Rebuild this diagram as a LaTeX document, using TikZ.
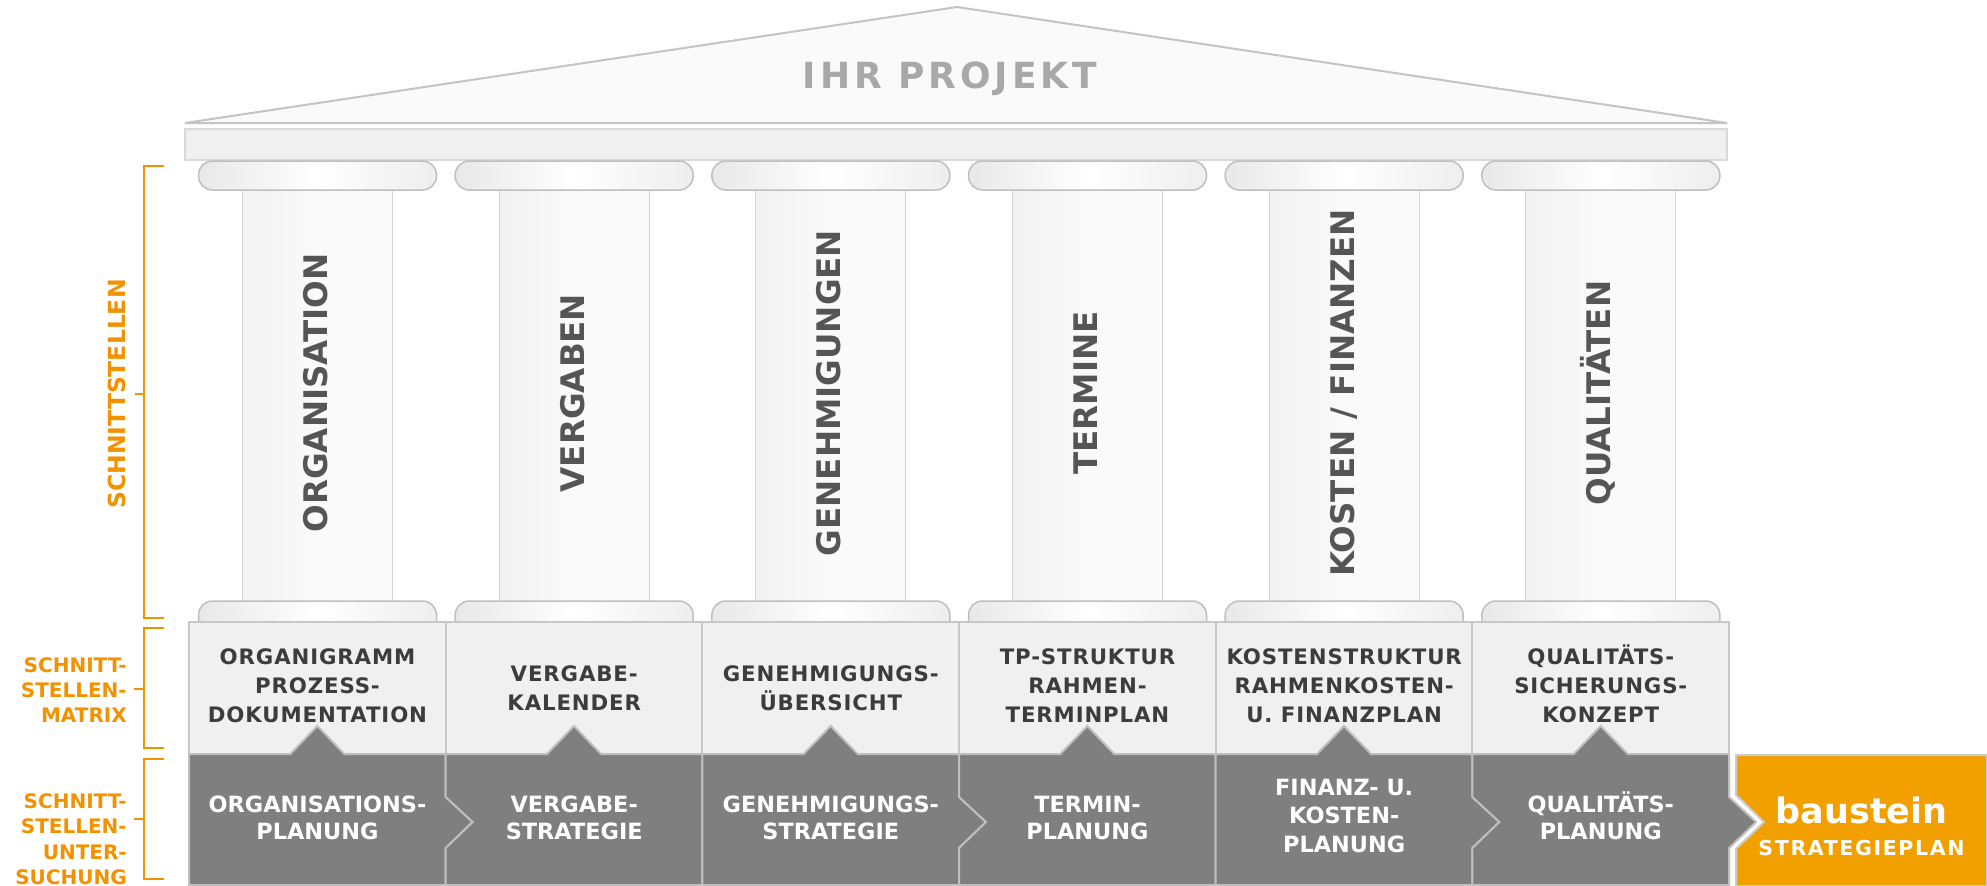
\documentclass[tikz,border=0pt]{standalone}
\usepackage{fontspec}
\setmainfont{DejaVu Sans}
\newfontfamily\fRoof[LetterSpace=11]{DejaVu Sans}
\newfontfamily\fMat[LetterSpace=4]{DejaVu Sans}
\newfontfamily\fPlain{DejaVu Sans}
\newfontfamily\fWide[LetterSpace=8]{DejaVu Sans}
\definecolor{orgL}{RGB}{243,146,0}
\definecolor{orgB}{RGB}{242,160,0}
\definecolor{darkcell}{RGB}{127,127,127}
\definecolor{matfill}{RGB}{240,240,240}
\definecolor{matline}{RGB}{200,200,200}
\definecolor{mattext}{RGB}{60,60,60}
\definecolor{coltext}{RGB}{85,85,85}
\definecolor{roofgray}{RGB}{168,168,168}
\definecolor{roofline}{RGB}{196,196,196}
\definecolor{capL}{RGB}{232,232,232}
\definecolor{capR}{RGB}{238,238,238}
\newcommand\txtstack[6]{\foreach \tline [count=\k] in {#6}{\node[#5,anchor=base] (#1-\k) at (#2,#3+#4*\k-#4) {\tline};}}
\tikzset{
  roofshape/.style={fill=white!98!black, draw=roofline, line width=2pt, line join=miter},
  roofT/.style={font={\fRoof\bfseries\fontsize{36}{40}\selectfont}, text=roofgray, inner sep=0pt},
  entab/.style={fill=matfill, draw=black!15, line width=1.5pt},
  shaft/.style={left color=black!5, right color=black!2, middle color=black!2},
  shaftline/.style={draw=black!17, line width=1.2pt},
  capital/.style={left color=capL, right color=capR, middle color=white, draw=black!25, line width=1.5pt, rounded corners=14pt},
  matcell/.style={fill=matfill, draw=matline, line width=2pt},
  darkc/.style={fill=darkcell, draw=black!25, line width=2pt, line join=miter},
  orangebox/.style={fill=orgB, draw=black!20, line width=2pt, line join=miter},
  colT/.style={font={\fPlain\bfseries\fontsize{32.5}{36}\selectfont}, text=coltext, inner sep=0pt, rotate=90, text height=23.7pt, text depth=0pt},
  matT/.style={font={\fMat\bfseries\fontsize{21.3}{24}\selectfont}, text=mattext, inner sep=0pt},
  botT/.style={font={\fPlain\bfseries\fontsize{22.4}{24}\selectfont}, text=white, inner sep=0pt},
  sideT/.style={font={\fPlain\bfseries\fontsize{20}{22}\selectfont}, text=orgL, inner sep=0pt},
  sideR/.style={font={\fPlain\bfseries\fontsize{23.5}{26}\selectfont}, text=orgL, inner sep=0pt, rotate=90, text height=17.1pt, text depth=0pt},
  bracket/.style={draw=orgL, line width=2pt},
  bausT/.style={font={\fPlain\bfseries\fontsize{35}{38}\selectfont}, text=white, inner sep=0pt},
  stratT/.style={font={\fWide\bfseries\fontsize{20.5}{22}\selectfont}, text=white, inner sep=0pt}
}
\begin{document}
\begin{tikzpicture}[x=1pt,y=-1pt]
\useasboundingbox (0,0) rectangle (1987,886);
\fill[white] (0,0) rectangle (1987,886);
% roof
\draw[roofshape] (185,123) -- (957,7) -- (1727,123) -- cycle;
\node[roofT,anchor=base] (title) at (950,88) {IHR PROJEKT};
% entablature
\draw[entab] (185,129) rectangle (1727,160);
% columns
\foreach \i in {0,...,5}{
  \pgfmathsetmacro\C{317.5+256.67*\i}
  \path[shaft] (\C-75,190) rectangle (\C+75,601);
  \draw[shaftline] (\C-75,190) -- (\C-75,601) (\C+75,190) -- (\C+75,601);
  \draw[capital] (\C-119,161) rectangle (\C+119,190);
  \draw[capital] (\C-119,622) -- (\C-119,601) -- (\C+119,601) -- (\C+119,622);
}
% matrix
\foreach \i in {0,...,5}{
  \pgfmathsetmacro\L{189+256.67*\i}
  \draw[matcell] (\L,622) rectangle (\L+256.67,754);
}
% orange box
\draw[orangebox] (1736,755) -- (1987,755) -- (1987,886) -- (1736,886) -- (1736,849) -- (1764,822) -- (1736,795) -- cycle;
% dark cells
\foreach \i/\inc/\outc in {0/0/1,1/1/0,2/0/1,3/1/0,4/0/1,5/1/1}{
  \pgfmathsetmacro\L{189+256.67*\i}
  \pgfmathsetmacro\R{\L+256.67}
  \pgfmathsetmacro\C{\L+128.33}
  \ifnum\inc=1 \def\inpart{-- (\L,848) -- (\L+27,822) -- (\L,797)}\else\def\inpart{}\fi
  \ifnum\outc=1 \def\outpart{-- (\R,797) -- (\R+27,822) -- (\R,848)}\else\def\outpart{}\fi
  \draw[darkc] (\L,885) \inpart -- (\L,754) -- (\C-27,754) -- (\C,726) -- (\C+27,754) -- (\R,754) \outpart -- (\R,885) -- cycle;
}
% column labels
\node[colT] (col1) at (315.5,393) {ORGANISATION};
\node[colT] (col2) at (572.2,393) {VERGABEN};
\node[colT] (col3) at (828.8,393) {GENEHMIGUNGEN};
\node[colT] (col4) at (1085.5,393) {TERMINE};
\node[colT] (col5) at (1342.2,393) {KOSTEN / FINANZEN};
\node[colT] (col6) at (1598.8,393) {QUALITÄTEN};
% matrix texts
\txtstack{m1}{317.5}{664}{29}{matT}{ORGANIGRAMM,PROZESS-,DOKUMENTATION}
\txtstack{m2}{574.2}{681}{29}{matT}{VERGABE-,KALENDER}
\txtstack{m3}{830.8}{681}{29}{matT}{GENEHMIGUNGS-,ÜBERSICHT}
\txtstack{m4}{1087.5}{664}{29}{matT}{TP-STRUKTUR,RAHMEN-,TERMINPLAN}
\txtstack{m5}{1344.2}{664}{29}{matT}{KOSTENSTRUKTUR,RAHMENKOSTEN-,U. FINANZPLAN}
\txtstack{m6}{1600.8}{664}{29}{matT}{QUALITÄTS-,SICHERUNGS-,KONZEPT}
% bottom texts
\txtstack{b1}{317.5}{812}{27}{botT}{ORGANISATIONS-,PLANUNG}
\txtstack{b2}{574.2}{812}{27}{botT}{VERGABE-,STRATEGIE}
\txtstack{b3}{830.8}{812}{27}{botT}{GENEHMIGUNGS-,STRATEGIE}
\txtstack{b4}{1087.5}{812}{27}{botT}{TERMIN-,PLANUNG}
\txtstack{b5}{1344.2}{795}{28.5}{botT}{FINANZ- U.,KOSTEN-,PLANUNG}
\txtstack{b6}{1600.8}{812}{27}{botT}{QUALITÄTS-,PLANUNG}
% orange box texts
\node[bausT,anchor=base] (baus) at (1861.5,823) {baustein};
\node[stratT,anchor=base] (strat) at (1861.5,855) {STRATEGIEPLAN};
% left brackets and labels
\draw[bracket] (164,166) -- (144,166) -- (144,618) -- (164,618);
\draw[bracket] (144,394) -- (135,394);
\draw[bracket] (164,628) -- (144,628) -- (144,748) -- (164,748);
\draw[bracket] (144,689) -- (134,689);
\draw[bracket] (164,759) -- (144,759) -- (144,879) -- (164,879);
\draw[bracket] (144,819) -- (134,819);
\node[sideR] (s1) at (117,394) {SCHNITTSTELLEN};
\foreach \tline/\yy/\nm in {SCHNITT-/672/s2a, STELLEN-/697/s2b, MATRIX/722/s2c, SCHNITT-/808/s3a, STELLEN-/833/s3b, UNTER-/859/s3c, SUCHUNG/884/s3d}{
  \node[sideT,anchor=base east] (\nm) at (127,\yy) {\tline};
}
\end{tikzpicture}
\end{document}
